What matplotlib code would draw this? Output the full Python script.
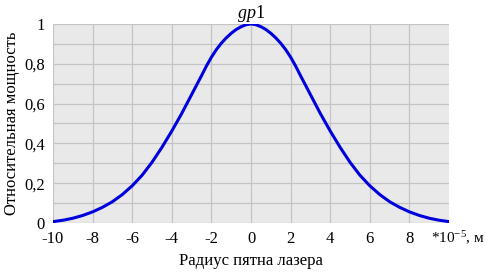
import matplotlib
matplotlib.use("Agg")
import matplotlib.pyplot as plt
from matplotlib.ticker import MultipleLocator, FuncFormatter

radius = [-10, -9.5, -9, -8.5, -8, -7.5, -7, -6.5, -6, -5.5, -5, -4.5, -4, -3.5, -3, -2.5, -2.25, -2, -1.75,
          -1.5, -1.25, -1, -0.75, -0.5, -0.25,
          0, 0.25, 0.5, 0.75, 1, 1.25, 1.5, 1.75, 2, 2.25, 2.5, 3, 3.5, 4, 4.5, 5, 5.5, 6, 6.5, 7, 7.5,
          8, 8.5, 9, 9.5, 10]
half = [0.007, 0.014, 0.024, 0.038, 0.056, 0.079, 0.107, 0.143, 0.187, 0.24, 0.305, 0.38, 0.462, 0.55,
        0.645, 0.74, 0.789, 0.833, 0.871, 0.903, 0.93, 0.953, 0.972, 0.986, 0.996]
power = half + [1.0] + half[::-1]
x_ticks = [-10, -8, -6, -4, -2, 0, 2, 4, 6, 8]
y_ticks = [0, 0.2, 0.4, 0.6, 0.8, 1]

plt.rcParams['font.family'] = ['Liberation Serif', 'DejaVu Serif']
plt.rcParams['mathtext.fontset'] = 'custom'
plt.rcParams['mathtext.it'] = 'Liberation Serif:italic'
plt.rcParams['mathtext.rm'] = 'Liberation Serif'
plt.rcParams['axes.unicode_minus'] = False

fig = plt.figure(figsize=(4.86, 2.75), dpi=100)
ax = fig.add_axes([0.109, 0.189, 0.815, 0.724])
ax.set_facecolor('#e9e9e9')
ax.plot(radius, power, color='#0000dd', lw=2.2, zorder=3, solid_joinstyle='round')
ax.set_xlim(-10, 10)
ax.set_ylim(0, 1)
ax.set_xticks(x_ticks)
ax.set_yticks(y_ticks)
ax.yaxis.set_minor_locator(MultipleLocator(0.1))
ax.yaxis.set_major_formatter(FuncFormatter(lambda v, p: ('%g' % v).replace('.', ',')))
ax.grid(True, which='major', color='#c4c4c4', lw=0.9)
ax.grid(True, which='minor', axis='y', color='#c4c4c4', lw=0.9)
ax.tick_params(which='both', length=0, labelsize=12)
ax.tick_params(axis='x', pad=6)
ax.tick_params(axis='y', pad=6)
for s in ax.spines.values():
    s.set_visible(False)
ax.text(9.1, -0.03, '*10$^{-5}$, м', transform=ax.transData, ha='left', va='top', fontsize=11)
ax.set_xlabel('Радиус пятна лазера', fontsize=12, labelpad=4)
ax.set_ylabel('Относительная мощность', fontsize=12, labelpad=3)
ax.set_title(r'$gp$1', fontsize=13, pad=3)
fig.savefig('out.png', dpi=100)
